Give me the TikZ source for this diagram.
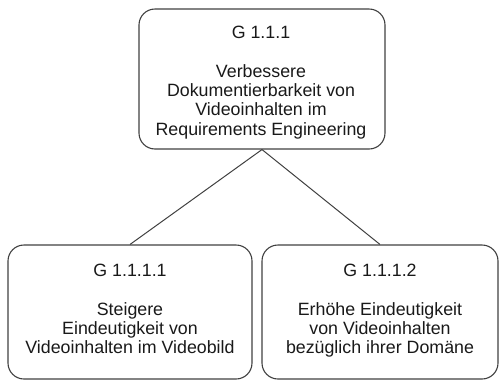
\documentclass[tikz,border=0pt]{standalone}
\usepackage{fontspec}
\setmainfont{Liberation Sans}
\begin{document}
\begin{tikzpicture}[x=1pt,y=-1pt,
  goalbox/.style={draw=black!75, line width=1.1pt, rounded corners=16pt, inner sep=0pt},
  goaltxt/.style={anchor=north, align=center, inner sep=0pt, text=black!90,
    font=\fontsize{17.8}{19.3}\selectfont},
  link/.style={draw=black!75, line width=1pt}]
\useasboundingbox (0,0) rectangle (501,381);
\node[goalbox, minimum width=246pt, minimum height=140pt] (top) at (262,79) {};
\node[goalbox, minimum width=244pt, minimum height=134pt] (left) at (130,312) {};
\node[goalbox, minimum width=236pt, minimum height=134pt] (right) at (380,312) {};
\node[goaltxt] (toptxt) at (261,26) {G 1.1.1\\[19.3pt]Verbessere\\Dokumentierbarkeit von\\Videoinhalten im\\Requirements Engineering};
\node[goaltxt] (lefttxt) at (130,264) {G 1.1.1.1\\[19.3pt]Steigere\\Eindeutigkeit von\\Videoinhalten im Videobild};
\node[goaltxt] (righttxt) at (380,264) {G 1.1.1.2\\[19.3pt]Erhöhe Eindeutigkeit\\von Videoinhalten\\bezüglich ihrer Domäne};
\draw[link] (top.south) -- (left.north);
\draw[link] (top.south) -- (right.north);
\end{tikzpicture}
\end{document}
